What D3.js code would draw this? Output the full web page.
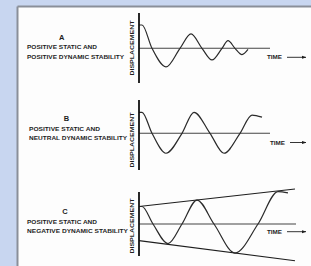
<!DOCTYPE html>
<html><head><meta charset="utf-8">
<script src="https://cdn.jsdelivr.net/npm/d3@7"></script>
<style>html,body{margin:0;padding:0;background:#c8d6f0;}svg{display:block;}</style>
</head><body>
<script>
// ---- data ----
const panelLetters = ["A", "B", "C"];
const labelLine1 = ["POSITIVE STATIC AND", "POSITIVE STATIC AND", "POSITIVE STATIC AND"];
const labelLine2 = ["POSITIVE DYNAMIC STABILITY", "NEUTRAL DYNAMIC STABILITY", "NEGATIVE DYNAMIC STABILITY"];
const yAxisLabel = "DISPLACEMENT";
const xAxisLabel = "TIME";

// waves: time (arbitrary units) and displacement (initial displacement = 1)
const waveA_t = [0, 3, 13, 27, 41, 52, 63, 73, 83, 89, 96, 103, 109];
const waveA_d = [1, 1, 0, -0.8, 0, 0.62, 0, -0.5, 0, 0.33, 0, -0.27, -0.05];
const waveB_t = [0, 3, 13, 27, 43, 55, 71, 85, 101, 113, 123];
const waveB_d = [1, 1, 0, -0.95, 0, 1, 0, -0.95, 0, 0.87, 0.77];
const waveC_t = [0, 3, 14, 29, 43, 58, 75, 96, 119, 139, 149];
const waveC_d = [1, 1, 0, -1.12, 0, 1.37, 0, -1.66, 0, 1.85, 1.78];
// envelope for C
const envC_t = [0, 156];
const envC_upper = [1, 2.0];
const envC_lower = [-0.95, -2.1];
// time-axis extent per panel
const baselineEnd = [131, 131, 157];

// ---- layout ----
const W = 311, H = 266;
const panels = [
  {baseline: 48.3, unit: 23.3, axisTop: 13, axisBot: 83, dispY: 48, timeY: 57.3, timeX: 267,
   letter: [61.7, 37.5], l1: [27, 47.2, 70], l2: [27, 56.5, 97], t: waveA_t, d: waveA_d},
  {baseline: 133.3, unit: 21, axisTop: 100, axisBot: 170, dispY: 140, timeY: 142.5, timeX: 270,
   letter: [66.5, 118.5], l1: [29, 128.5, 71], l2: [29, 137.5, 98], t: waveB_t, d: waveB_d},
  {baseline: 224, unit: 17.5, axisTop: 192, axisBot: 256, dispY: 226, timeY: 231.7, timeX: 267,
   letter: [65, 211.8], l1: [27, 222.3, 70], l2: [27, 231.3, 101], t: waveC_t, d: waveC_d}
];

const svg = d3.select("body").append("svg").attr("width", W).attr("height", H);
// panel
svg.append("rect").attr("x", 18).attr("y", 7).attr("width", W - 18).attr("height", H - 7).attr("fill", "#fdfdfd");
svg.append("line").attr("x1", 17.5).attr("x2", W).attr("y1", 6.5).attr("y2", 6.5).attr("stroke", "#8a8f99").attr("stroke-width", 2);
svg.append("line").attr("x1", 17.5).attr("x2", 17.5).attr("y1", 6.5).attr("y2", H).attr("stroke", "#8a8f99").attr("stroke-width", 2);

const x = d3.scaleLinear().domain([0, 131]).range([139, 270]);
const font = "'Liberation Sans', Arial, sans-serif";
const ink = "#1e1e1e";

svg.append("defs").append("marker").attr("id", "arr").attr("viewBox", "0 0 10 10")
  .attr("refX", 9).attr("refY", 5).attr("markerWidth", 5).attr("markerHeight", 5).attr("orient", "auto")
  .append("path").attr("d", "M0,1.5 L10,5 L0,8.5 Z").attr("fill", ink);

panels.forEach((p, i) => {
  const y = d3.scaleLinear().domain([0, 1]).range([p.baseline, p.baseline - p.unit]);
  const g = svg.append("g");

  // baseline (time axis)
  g.append("line").attr("x1", x(0)).attr("x2", x(baselineEnd[i]))
    .attr("y1", y(0)).attr("y2", y(0)).attr("stroke", "#444").attr("stroke-width", 1.1);

  // envelope
  if (i === 2) {
    const env = d3.line().x(d => x(d[0])).y(d => y(d[1]));
    g.append("path").attr("d", env(d3.zip(envC_t, envC_upper))).attr("fill", "none").attr("stroke", ink).attr("stroke-width", 1.2);
    g.append("path").attr("d", env(d3.zip(envC_t, envC_lower))).attr("fill", "none").attr("stroke", ink).attr("stroke-width", 1.2);
  }

  // wave
  const line = d3.line().x(d => x(d[0])).y(d => y(d[1])).curve(d3.curveMonotoneX);
  g.append("path").attr("d", line(d3.zip(p.t, p.d))).attr("fill", "none")
    .attr("stroke", "#2a2a2a").attr("stroke-width", 1.2);

  // vertical axis
  g.append("line").attr("x1", x(0)).attr("x2", x(0)).attr("y1", p.axisTop).attr("y2", p.axisBot)
    .attr("stroke", "#111").attr("stroke-width", 1.8);

  // DISPLACEMENT label
  g.append("text").attr("transform", `translate(134.3,${p.dispY}) rotate(-90)`)
    .attr("text-anchor", "middle").attr("font-family", font).attr("font-weight", "bold")
    .attr("font-size", 6).attr("fill", ink).attr("textLength", 55).attr("lengthAdjust", "spacingAndGlyphs")
    .text(yAxisLabel);

  // TIME label and arrow
  g.append("text").attr("x", p.timeX).attr("y", p.timeY + 2).attr("font-family", font).attr("font-weight", "bold")
    .attr("font-size", 5.5).attr("fill", ink).attr("textLength", 15).attr("lengthAdjust", "spacingAndGlyphs").text(xAxisLabel);
  g.append("line").attr("x1", p.timeX + 20).attr("x2", 306).attr("y1", p.timeY).attr("y2", p.timeY)
    .attr("stroke", ink).attr("stroke-width", 0.9).attr("marker-end", "url(#arr)");

  // panel labels
  g.append("text").attr("x", p.letter[0]).attr("y", p.letter[1] + 2.5).attr("text-anchor", "middle")
    .attr("font-family", font).attr("font-weight", "bold").attr("font-size", 7.5).attr("fill", ink).text(panelLetters[i]);
  g.append("text").attr("x", p.l1[0]).attr("y", p.l1[1] + 2).attr("font-family", font).attr("font-weight", "bold")
    .attr("font-size", 5.5).attr("fill", ink).attr("textLength", p.l1[2]).attr("lengthAdjust", "spacingAndGlyphs").text(labelLine1[i]);
  g.append("text").attr("x", p.l2[0]).attr("y", p.l2[1] + 2).attr("font-family", font).attr("font-weight", "bold")
    .attr("font-size", 5.5).attr("fill", ink).attr("textLength", p.l2[2]).attr("lengthAdjust", "spacingAndGlyphs").text(labelLine2[i]);
});
</script>
</body></html>
